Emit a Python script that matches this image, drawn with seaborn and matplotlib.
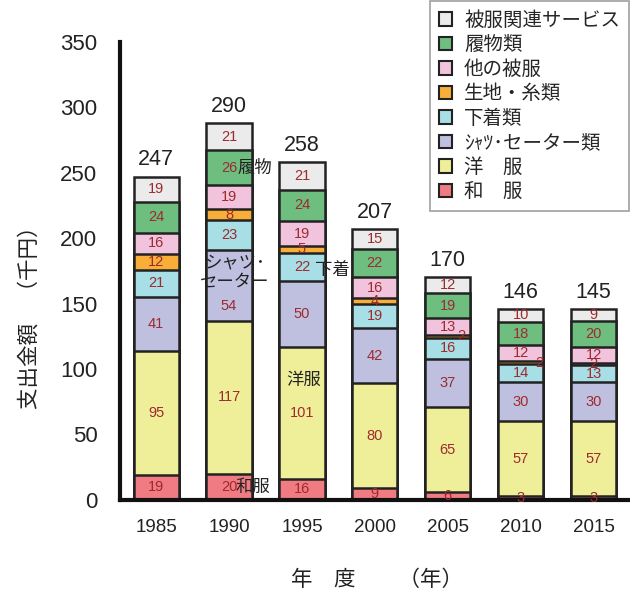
import matplotlib
matplotlib.use("Agg")
import matplotlib.pyplot as plt
import matplotlib.patches as mpatches
import numpy as np
import pandas as pd
import seaborn as sns

# ---- data ----
years = ['1985', '1990', '1995', '2000', '2005', '2010', '2015']
wafuku = [19, 20, 16, 9, 6, 3, 3]          # 和服
yofuku = [95, 117, 101, 80, 65, 57, 57]    # 洋服
shirts = [41, 54, 50, 42, 37, 30, 30]      # シャツ・セーター類
shitagi = [21, 23, 22, 19, 16, 14, 13]     # 下着類
kiji = [12, 8, 5, 4, 2, 2, 2]              # 生地・糸類
other = [16, 19, 19, 16, 13, 12, 12]       # 他の被服
shoes = [24, 26, 24, 22, 19, 18, 20]       # 履物類
service = [19, 21, 21, 15, 12, 10, 9]      # 被服関連サービス
totals = [247, 290, 258, 207, 170, 146, 145]

layer_names = ['和\u3000服', '洋\u3000服', 'ｼｬﾂ･セーター類', '下着類', '生地・糸類',
               '他の被服', '履物類', '被服関連サービス']
layer_values = [wafuku, yofuku, shirts, shitagi, kiji, other, shoes, service]
layer_colors = ['#F07B82', '#EFEF9A', '#BFC0E0', '#A8DEE5', '#F9AE3A',
                '#F2C3DC', '#6EBE80', '#EBEBEB']

# ---- styling ----
sns.set_style("white")
plt.rcParams['font.family'] = ['Liberation Sans', 'Noto Sans CJK JP', 'DejaVu Sans']
JP = ['Noto Sans CJK JP', 'DejaVu Sans']

fig = plt.figure(figsize=(6.3, 5.98), dpi=100)
ax = fig.add_axes([0.19, 0.164, 0.81, 0.766])

vals = np.array(layer_values, dtype=float)
cum = np.cumsum(vals, axis=0)
bottoms = cum - vals

edge = '#222222'
bar_w = 0.62
# draw from top layer downward so lower layers overlay
for i in range(len(layer_values) - 1, -1, -1):
    df = pd.DataFrame({'year': years, 'h': cum[i]})
    sns.barplot(data=df, x='year', y='h', order=years, color=layer_colors[i],
                width=bar_w, edgecolor=edge, linewidth=1.8, saturation=1,
                ax=ax, zorder=2)

# segment value labels
label_shift = {(2, 1): (0.0, -16), (4, 4): (0.18, 0), (4, 5): (0.25, 0)}
for i in range(len(layer_values)):
    for j in range(len(years)):
        v = layer_values[i][j]
        dx, dy = label_shift.get((i, j), (0, 0))
        ax.text(j + dx, bottoms[i][j] + v / 2 + dy, str(v), ha='center', va='center',
                fontsize=10.5, color='#9E2A2E', zorder=5)

# totals
for j in range(len(years)):
    ax.annotate(str(totals[j]), (j, cum[-1][j]), xytext=(0, 12), textcoords='offset points',
                ha='center', va='center', fontsize=15.5, color='#222222')

# in-chart annotations
ann_kw = dict(fontsize=12.5, color='#222222', ha='center', va='center', zorder=6, family=JP)
ax.text(1.36, 254, '履物', **ann_kw)
ax.text(1.08, 174, 'シャツ･\nセーター', linespacing=1.05, **ann_kw)
ax.text(2.42, 176, '下着', **ann_kw)
ax.text(2.02, 92, '洋服', **ann_kw)
ax.text(1.33, 10, '和服', **ann_kw)

# axes
ax.set_xlim(-0.5, 6.5)
ax.set_ylim(0, 350)
ax.set_yticks(np.arange(0, 351, 50))
ax.set_xlabel('')
ax.set_ylabel('')
for s in ['top', 'right']:
    ax.spines[s].set_visible(False)
for s in ['left', 'bottom']:
    ax.spines[s].set_linewidth(3)
    ax.spines[s].set_color('#111111')
ax.tick_params(axis='y', direction='in', length=6, width=2.5, color='#111111',
               labelsize=16, pad=16, labelcolor='#222222')
ax.tick_params(axis='x', which='major', length=0, labelsize=13.5, pad=14, labelcolor='#222222')
ax.set_xticks(np.arange(0.5, 6, 1), minor=True)
ax.tick_params(axis='x', which='minor', direction='in', length=6, width=2.5, color='#111111')

fig.text(30 / 630, 1 - 312 / 598, '支出金額\u3000（千円）', rotation=90, ha='center', va='center',
         fontsize=15.5, color='#222222', family=JP)
fig.text(377 / 630, 1 - 580 / 598, '年\u3000度\u3000\u3000（年）', ha='center', va='center',
         fontsize=15.5, color='#222222', family=JP)

# legend
handles = [mpatches.Patch(facecolor=layer_colors[i], edgecolor=edge, linewidth=1.5,
                          label=layer_names[i]) for i in range(len(layer_names) - 1, -1, -1)]
leg = fig.legend(handles=handles, loc='upper right', bbox_to_anchor=(0.998, 0.998),
                 frameon=True, fancybox=False, handlelength=0.7,
                 handleheight=0.7, handletextpad=0.6, labelspacing=0.18, borderpad=0.45,
                 borderaxespad=0, prop={'family': JP, 'size': 14})
leg.get_frame().set_edgecolor('#888888')
leg.get_frame().set_linewidth(1.2)

fig.savefig('out.png', dpi=100)
